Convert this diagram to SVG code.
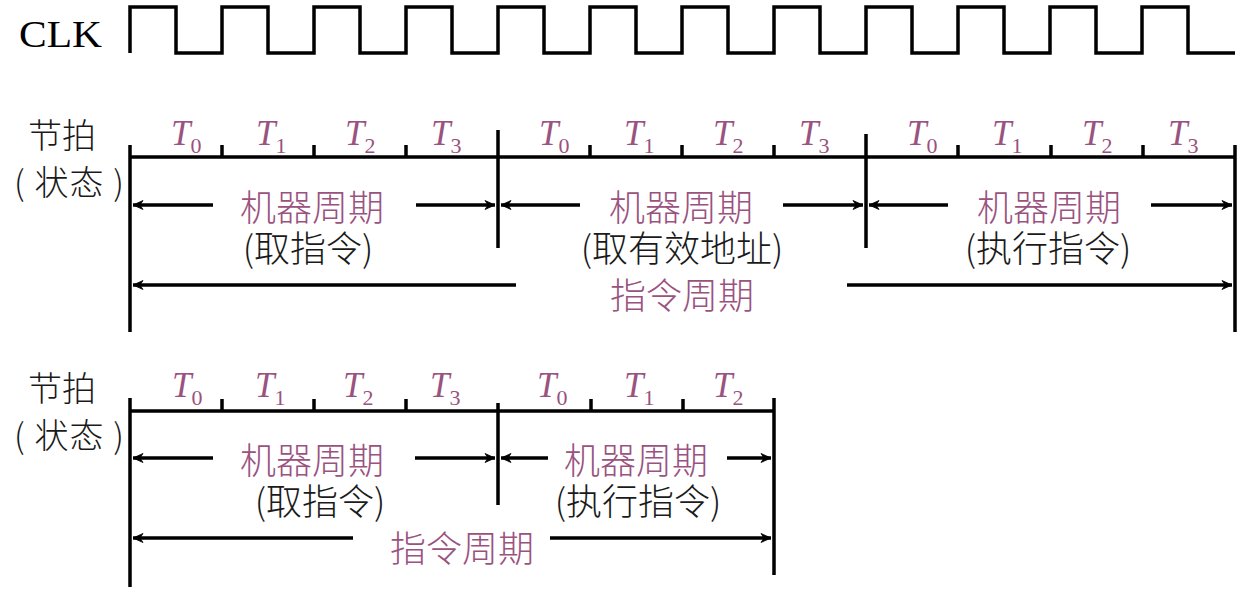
<svg xmlns="http://www.w3.org/2000/svg" width="1245" height="592" viewBox="0 0 1245 592">
<style>
.ln{stroke:#000;stroke-width:3.5;fill:none;stroke-linecap:butt}
.lbl{font-family:"Noto Sans CJK SC","Noto Sans",sans-serif;font-size:34px;font-weight:300;fill:#1a1a1a}
.mc{font-family:"Noto Sans CJK SC","Noto Sans",sans-serif;font-size:36px;font-weight:300;fill:#9a5280;text-anchor:middle}
.sub{font-family:"Noto Sans CJK SC","Noto Sans",sans-serif;font-size:36px;font-weight:300;fill:#1a1a1a;text-anchor:middle}
.t{font-family:"Liberation Serif",serif;font-style:italic;font-size:35px;fill:#9a5280}
.t tspan{font-style:normal;font-size:22px}
.clk{font-family:"Liberation Serif",serif;font-size:37px;fill:#000}
.arr{stroke:#000;stroke-width:3.5;fill:none;marker-end:url(#ah)}
</style>
<defs>
<marker id="ah" markerUnits="userSpaceOnUse" viewBox="-12 -6 14 12" refX="0" refY="0" markerWidth="14" markerHeight="12" orient="auto">
<path d="M0,0 L-10,-4.5 L-7,0 L-10,4.5 Z" fill="#000" stroke="#000" stroke-width="0.8" stroke-linejoin="miter"/>
</marker>
</defs>

<g id="clk">
<text class="clk" x="19" y="47" textLength="83" lengthAdjust="spacingAndGlyphs">CLK</text>
<path class="ln" d="M130,53 V7 H176 V53 H222 V7 H268 V53 H314 V7 H360 V53 H406 V7 H452 V53 H498 V7 H544 V53 H590 V7 H636 V53 H682 V7 H728 V53 H774 V7 H820 V53 H866 V7 H912 V53 H958 V7 H1004 V53 H1050 V7 H1096 V53 H1142 V7 H1188 V53 H1235"/>
</g>

<g id="row1-labels">
<text class="lbl" x="28" y="148">节拍</text>
<text class="lbl" x="14" y="195" textLength="110">( 状态 )</text>
</g>

<g id="row1-timeline">
<path class="ln" d="M130,157 H1235 M130,145 V332 M498,130 V248 M866,134 V248 M1235,145 V332 M222,145 V157 M314,145 V157 M406,145 V157 M590,145 V157 M682,145 V157 M774,145 V157 M958,145 V157 M1051,145 V157 M1143,145 V157"/>
<text class="t" x="171" y="145">T<tspan dy="8">0</tspan></text>
<text class="t" x="256" y="145">T<tspan dy="8">1</tspan></text>
<text class="t" x="345" y="145">T<tspan dy="8">2</tspan></text>
<text class="t" x="431" y="145">T<tspan dy="8">3</tspan></text>
<text class="t" x="539" y="145">T<tspan dy="8">0</tspan></text>
<text class="t" x="624" y="145">T<tspan dy="8">1</tspan></text>
<text class="t" x="713" y="145">T<tspan dy="8">2</tspan></text>
<text class="t" x="799" y="145">T<tspan dy="8">3</tspan></text>
<text class="t" x="907" y="145">T<tspan dy="8">0</tspan></text>
<text class="t" x="992" y="145">T<tspan dy="8">1</tspan></text>
<text class="t" x="1082" y="145">T<tspan dy="8">2</tspan></text>
<text class="t" x="1168" y="145">T<tspan dy="8">3</tspan></text>
</g>

<g id="row1-cycle1">
<text class="mc" x="312" y="221">机器周期</text>
<text class="sub" x="308" y="262">(取指令)</text>
</g>
<g id="row1-cycle2">
<text class="mc" x="681" y="221">机器周期</text>
<text class="sub" x="682" y="262">(取有效地址)</text>
</g>
<g id="row1-cycle3">
<text class="mc" x="1049" y="221">机器周期</text>
<text class="sub" x="1048" y="262">(执行指令)</text>
</g>
<g id="row1-instr">
<text class="mc" x="682" y="309">指令周期</text>
</g>

<g id="row2-labels">
<text class="lbl" x="28" y="401">节拍</text>
<text class="lbl" x="14" y="448" textLength="110">( 状态 )</text>
</g>

<g id="row2-timeline">
<path class="ln" d="M130,411 H774 M130,398 V587 M498,403 V505 M774,398 V575 M222,399 V411 M314,399 V411 M406,399 V411 M591,399 V411 M683,399 V411"/>
<text class="t" x="172" y="397">T<tspan dy="8">0</tspan></text>
<text class="t" x="255" y="397">T<tspan dy="8">1</tspan></text>
<text class="t" x="343" y="397">T<tspan dy="8">2</tspan></text>
<text class="t" x="430" y="397">T<tspan dy="8">3</tspan></text>
<text class="t" x="537" y="397">T<tspan dy="8">0</tspan></text>
<text class="t" x="624" y="397">T<tspan dy="8">1</tspan></text>
<text class="t" x="713" y="397">T<tspan dy="8">2</tspan></text>
</g>

<g id="row2-cycle1">
<text class="mc" x="312" y="474">机器周期</text>
<text class="sub" x="320" y="515">(取指令)</text>
</g>
<g id="row2-cycle2">
<text class="mc" x="636" y="474">机器周期</text>
<text class="sub" x="638" y="515">(执行指令)</text>
</g>
<g id="row2-instr">
<text class="mc" x="462" y="562">指令周期</text>
</g>

<g id="connectors">
<path class="arr" d="M213,205 H133"/>
<path class="arr" d="M416,205 H495"/>
<path class="arr" d="M580,205 H501"/>
<path class="arr" d="M783,205 H863"/>
<path class="arr" d="M948,205 H869"/>
<path class="arr" d="M1151,205 H1232"/>
<path class="arr" d="M516,285 H133"/>
<path class="arr" d="M847,285 H1232"/>
<path class="arr" d="M213,458 H133"/>
<path class="arr" d="M415,458 H495"/>
<path class="arr" d="M548,458 H501"/>
<path class="arr" d="M727,458 H771"/>
<path class="arr" d="M353,538 H133"/>
<path class="arr" d="M550,538 H771"/>
</g>
</svg>
